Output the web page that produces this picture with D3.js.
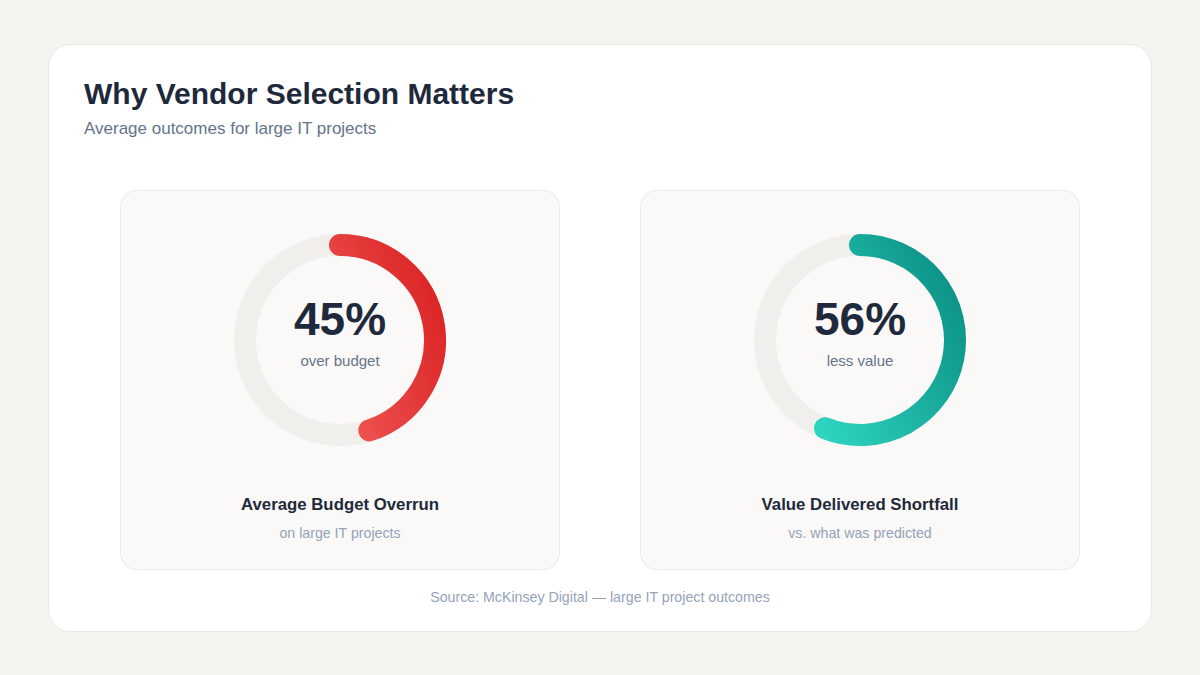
<!DOCTYPE html>
<html>
<head>
<meta charset="utf-8">
<script src="https://cdn.jsdelivr.net/npm/d3@7"></script>
<style>
  html, body { margin: 0; padding: 0; background: #f5f4f0; }
  svg { display: block; font-family: "Liberation Sans", Arial, Helvetica, sans-serif; }
</style>
</head>
<body>
<div id="chart"></div>
<script>
// two headline numbers, one gauge each
const metrics   = ['budget', 'value'];
const percents  = [45, 56];
const centerSub = ['over budget', 'less value'];
const titles    = ['Average Budget Overrun', 'Value Delivered Shortfall'];
const notes     = ['on large IT projects', 'vs. what was predicted'];
const gradStops = [['#dc2626', '#f05656'], ['#0d9488', '#2dd4bf']];

const W = 1200, H = 675;
const ink = '#1e293b', slate = '#64748b', muted = '#94a3b8';

const svg = d3.select('#chart').append('svg')
  .attr('width', W).attr('height', H)
  .attr('viewBox', `0 0 ${W} ${H}`);

const defs = svg.append('defs');
metrics.forEach((m, i) => {
  const g = defs.append('linearGradient').attr('id', `grad-${m}`)
    .attr('x1', '100%').attr('y1', '25%').attr('x2', '0%').attr('y2', '100%');
  g.append('stop').attr('offset', '0%').attr('stop-color', gradStops[i][0]);
  g.append('stop').attr('offset', '100%').attr('stop-color', gradStops[i][1]);
});

// outer card
svg.append('rect')
  .attr('x', 48.5).attr('y', 44.5).attr('width', 1103).attr('height', 587)
  .attr('rx', 22).attr('fill', '#ffffff').attr('stroke', '#ebe9e4');

svg.append('text').attr('x', 84).attr('y', 104)
  .attr('font-size', 30).attr('font-weight', 700).attr('fill', ink)
  .text('Why Vendor Selection Matters');
svg.append('text').attr('x', 84).attr('y', 134)
  .attr('font-size', 17).attr('fill', slate)
  .text('Average outcomes for large IT projects');

// panels sit side by side in a band scale: 440px wide, 80px gap
const panelTop = 190, panelH = 380;
const x = d3.scaleBand().domain(metrics).range([120, 1080]).paddingInner(80 / 520);
const ringR = 95, ringW = 22;
// percent -> angle, measured clockwise from 12 o'clock
const angle = d3.scaleLinear().domain([0, 100]).range([-Math.PI / 2, 1.5 * Math.PI]);

const ringPath = pct => {
  const p = d3.path();
  p.arc(0, 0, ringR, angle(0), angle(pct));
  return p.toString();
};

metrics.forEach((m, i) => {
  const px = x(m);
  const cx = px + x.bandwidth() / 2, cy = 340;
  const g = svg.append('g');

  g.append('rect')
    .attr('x', px + 0.5).attr('y', panelTop + 0.5)
    .attr('width', x.bandwidth() - 1).attr('height', panelH - 1)
    .attr('rx', 16).attr('fill', '#faf9f7').attr('stroke', '#ebe9e4');

  const dg = g.append('g').attr('transform', `translate(${cx},${cy})`);
  dg.append('circle').attr('r', ringR)
    .attr('fill', 'none').attr('stroke', '#f0efeb').attr('stroke-width', ringW);
  dg.append('path')
    .attr('d', ringPath(percents[i]))
    .attr('fill', 'none')
    .attr('stroke', `url(#grad-${m})`)
    .attr('stroke-width', ringW)
    .attr('stroke-linecap', 'round');

  dg.append('text').attr('y', -5).attr('text-anchor', 'middle')
    .attr('font-size', 46).attr('font-weight', 700).attr('fill', ink)
    .text(`${percents[i]}%`);
  dg.append('text').attr('y', 26).attr('text-anchor', 'middle')
    .attr('font-size', 15).attr('fill', slate)
    .text(centerSub[i]);

  g.append('text').attr('x', cx).attr('y', 510).attr('text-anchor', 'middle')
    .attr('font-size', 16.8).attr('font-weight', 700).attr('fill', ink)
    .text(titles[i]);
  g.append('text').attr('x', cx).attr('y', 538).attr('text-anchor', 'middle')
    .attr('font-size', 14.2).attr('fill', muted)
    .text(notes[i]);
});

svg.append('text').attr('x', 600).attr('y', 602).attr('text-anchor', 'middle')
  .attr('font-size', 14.2).attr('fill', muted)
  .text('Source: McKinsey Digital \u2014 large IT project outcomes');
</script>
</body>
</html>
